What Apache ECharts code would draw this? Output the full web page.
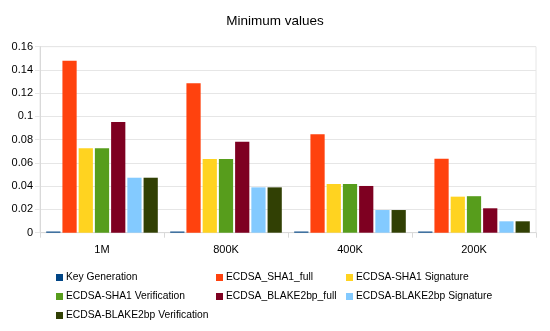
<!DOCTYPE html>
<html><head><meta charset="utf-8">
<script src="https://cdn.jsdelivr.net/npm/echarts@6/dist/echarts.min.js"></script>
<style>html,body{margin:0;padding:0;background:#fff}#c{width:550px;height:331px}</style>
</head><body><div id="c"></div>
<script>
const categories = ['1M', '800K', '400K', '200K'];
const seriesNames = ['Key Generation', 'ECDSA_SHA1_full', 'ECDSA-SHA1 Signature', 'ECDSA-SHA1 Verification', 'ECDSA_BLAKE2bp_full', 'ECDSA-BLAKE2bp Signature', 'ECDSA-BLAKE2bp Verification'];
const keyGeneration = [0.001, 0.001, 0.001, 0.001];
const sha1Full = [0.148, 0.1285, 0.0846, 0.0637];
const sha1Signature = [0.0726, 0.0634, 0.0419, 0.031];
const sha1Verification = [0.0726, 0.0634, 0.0419, 0.0314];
const blakeFull = [0.0952, 0.0783, 0.0402, 0.021];
const blakeSignature = [0.0473, 0.039, 0.0195, 0.0098];
const blakeVerification = [0.0473, 0.039, 0.0195, 0.0098];
const yTicks = { min: 0, max: 0.16, interval: 0.02 };

const values = [keyGeneration, sha1Full, sha1Signature, sha1Verification, blakeFull, blakeSignature, blakeVerification];
const colors = ['#004586', '#ff420e', '#ffd320', '#579d1c', '#7e0021', '#83caff', '#314004'];
const font = 'Liberation Sans, Arial, sans-serif';

const chart = echarts.init(document.getElementById('c'));
const legendBase = {
  orient: 'vertical', top: 271.5, itemWidth: 7, itemHeight: 7, itemGap: 7, icon: 'rect', padding: 0,
  textStyle: { fontFamily: font, fontSize: 10.3, color: '#000', padding: [0, 0, 0, -2], lineHeight: 12 }
};
chart.setOption({
  animation: false,
  color: colors,
  title: { text: 'Minimum values', left: 'center', top: 9, textStyle: { fontFamily: font, fontSize: 13.5, fontWeight: 'normal', color: '#000' } },
  legend: [
    Object.assign({}, legendBase, { left: 56, data: [seriesNames[0], seriesNames[3], seriesNames[6]] }),
    Object.assign({}, legendBase, { left: 216, data: [seriesNames[1], seriesNames[4]] }),
    Object.assign({}, legendBase, { left: 346, data: [seriesNames[2], seriesNames[5]] })
  ],
  grid: { left: 40, right: 14, top: 46.7, bottom: 98.3, show: true, borderColor: '#e6e6e6', borderWidth: 1 },
  xAxis: {
    type: 'category', data: categories,
    axisLine: { lineStyle: { color: '#d9d9d9' } },
    axisTick: { show: true, length: 5, lineStyle: { color: '#d9d9d9' } },
    axisLabel: { fontFamily: font, fontSize: 11, color: '#000', margin: 12 }
  },
  yAxis: {
    type: 'value', min: yTicks.min, max: yTicks.max, interval: yTicks.interval,
    axisLine: { show: true, lineStyle: { color: '#d9d9d9' } },
    axisTick: { show: true, length: 5, lineStyle: { color: '#e6e6e6' } },
    splitLine: { lineStyle: { color: '#e6e6e6' } },
    axisLabel: { fontFamily: font, fontSize: 11, color: '#000', margin: 7 }
  },
  series: seriesNames.map((n, i) => ({
    name: n, type: 'bar', data: values[i],
    barGap: '14%', barCategoryGap: '10%'
  }))
});
</script></body></html>
